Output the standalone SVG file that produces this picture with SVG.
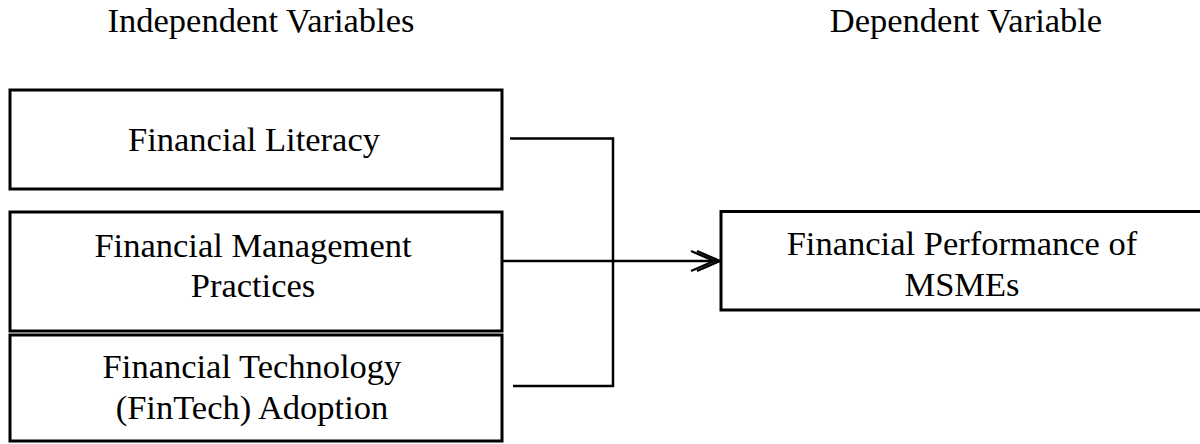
<svg xmlns="http://www.w3.org/2000/svg" width="1200" height="444" viewBox="0 0 1200 444">
<defs>
<style>
.box{fill:#fff;stroke:#000;stroke-width:3}
.t{font-family:'Liberation Serif','Times New Roman',serif;font-size:34.5px;fill:#000;text-anchor:middle}
.c{fill:none;stroke:#000;stroke-width:2.5}
.ah{fill:none;stroke:#000;stroke-width:2.3}
</style>
</defs>
<rect width="1200" height="444" fill="#fff"/>
<text class="t" x="261" y="32">Independent Variables</text>
<text class="t" x="966" y="32">Dependent Variable</text>
<g id="connectors">
<path class="c" d="M510 138.5 H613 V386 H513"/>
<path class="c" d="M502 261 H719"/>
<path class="ah" d="M697 251 L720 261 L697 271 M691 251 L714 261 L691 271"/>
</g>
<g id="n1">
<rect class="box" x="10" y="90" width="492" height="99"/>
<text class="t" x="254" y="151">Financial Literacy</text>
</g>
<g id="n2">
<rect class="box" x="10" y="212" width="492" height="119"/>
<text class="t" x="253" y="257">Financial Management</text>
<text class="t" x="253" y="297">Practices</text>
</g>
<g id="n3">
<rect class="box" x="10" y="335" width="492" height="106"/>
<text class="t" x="252" y="378">Financial Technology</text>
<text class="t" x="252" y="419">(FinTech) Adoption</text>
</g>
<g id="n4">
<rect class="box" x="721" y="211.5" width="484" height="98.5"/>
<text class="t" x="962" y="255">Financial Performance of</text>
<text class="t" x="962" y="296">MSMEs</text>
</g>
</svg>
